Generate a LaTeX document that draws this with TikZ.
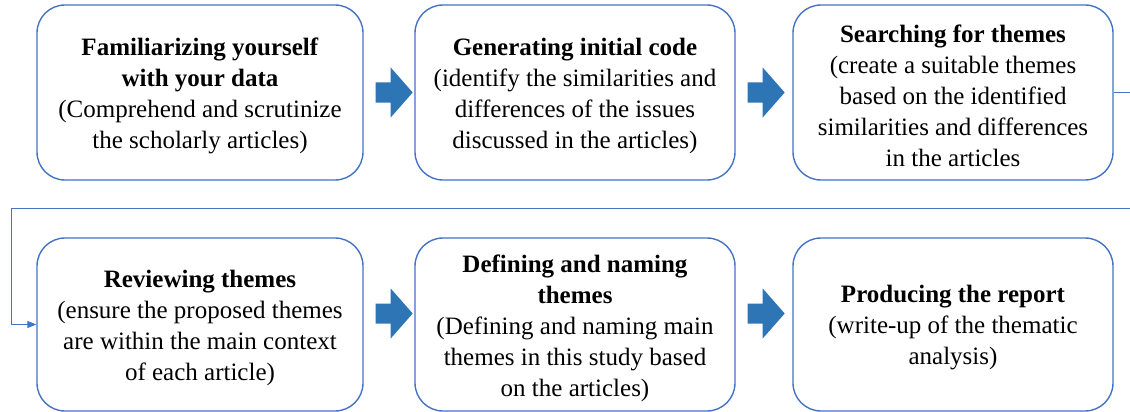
\documentclass[tikz,border=0pt]{standalone}
\usepackage{fontspec}
\setmainfont{Liberation Serif}
\usetikzlibrary{arrows.meta,calc}
\definecolor{boxline}{HTML}{4472C4}
\definecolor{arrowfill}{HTML}{2E75B6}
\tikzset{
  stage/.style={draw=boxline, line width=1.4pt, rounded corners=28pt,
    minimum width=326pt, minimum height=175pt, inner sep=0pt},
  stagetext/.style={align=center, inner sep=0pt, yshift=-3.5pt,
    font=\fontsize{25}{31}\selectfont},
  link/.style={draw=boxline, line width=1pt,
    -{Triangle[length=9pt,width=7pt]}},
  blockarrow/.style={fill=arrowfill, draw=none}
}
% block arrow placed right of a stage box, shifted vertically by #2
\newcommand{\blockarrowat}[2]{%
  \fill[blockarrow] ($(#1.east)+(12,#2-10)$) -- ++(15,0) -- ++(0,-15)
    -- ++(22,25) -- ++(-22,25) -- ++(0,-15) -- ++(-15,0) -- cycle;}
\begin{document}
\begin{tikzpicture}[x=1pt,y=-1pt]
\useasboundingbox (0,0) rectangle (1130,412);

% first row
\node[stage] (s1) at (200,92.5) {};
\node[stage, minimum width=320pt] (s2) at (575,92.5) {};
\node[stage, minimum width=320pt] (s3) at (953,92.5) {};
\node[stagetext] (t1) at (s1.center) {\textbf{Familiarizing yourself}\\\textbf{with your data}\\(Comprehend and scrutinize\\the scholarly articles)};
\node[stagetext] (t2) at (s2.center) {\textbf{Generating initial code}\\(identify the similarities and\\differences of the issues\\discussed in the articles)};
\node[stagetext] (t3) at (s3.center) {\textbf{Searching for themes}\\(create a suitable themes\\based on the identified\\similarities and differences\\in the articles};

% second row
\node[stage, minimum height=173pt] (s4) at (200,324.5) {};
\node[stage, minimum width=320pt, minimum height=173pt] (s5) at (575,324.5) {};
\node[stage, minimum width=320pt, minimum height=173pt] (s6) at (953,324.5) {};
\node[stagetext] (t4) at (s4.center) {\textbf{Reviewing themes}\\(ensure the proposed themes\\are within the main context\\of each article)};
\node[stagetext] (t5) at (s5.center) {\textbf{Defining and naming}\\\textbf{themes}\\(Defining and naming main\\themes in this study based\\on the articles)};
\node[stagetext] (t6) at (s6.center) {\textbf{Producing the report}\\(write-up of the thematic\\analysis)};

% block arrows between stages
\blockarrowat{s1}{0}
\blockarrowat{s2}{0}
\blockarrowat{s4}{-11}
\blockarrowat{s5}{-11}

% return line from the end of the first row to the start of the second
\coordinate (r1) at (1130,92.5);
\coordinate (r2) at (1130,208);
\coordinate (r3) at (11,208);
\draw[link] (s3.east) -- (r1) -- (r2) -- (r3) |- (s4.west);
\end{tikzpicture}
\end{document}
